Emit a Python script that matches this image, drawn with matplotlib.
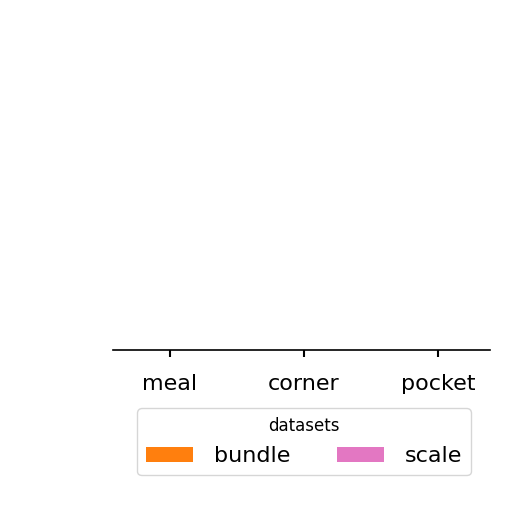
import numpy as np
import matplotlib.pyplot as plt

# Data (bars are flat at the baseline)
categories = ['meal', 'corner', 'pocket']
bundle = [0.0, 0.0, 0.0]
scale = [0.0, 0.0, 0.0]
series_names = ['bundle', 'scale']
colors = ['#ff7f0e', '#e377c2']

fig = plt.figure(figsize=(5.12, 5.12), dpi=100)
ax = fig.add_axes([0.221, 0.316, 0.736, 0.56])

x = np.arange(len(categories))
width = 0.38
ax.bar(x - width / 2, bundle, width, color=colors[0], label=series_names[0])
ax.bar(x + width / 2, scale, width, color=colors[1], label=series_names[1])

ax.set_xlim(-0.425, 2.39)
ax.set_ylim(0, 1)
ax.set_xticks(x)
ax.set_xticklabels(categories, fontsize=16)
ax.set_yticks([])
for side in ['top', 'right', 'left']:
    ax.spines[side].set_visible(False)
ax.spines['bottom'].set_linewidth(1.2)
ax.tick_params(axis='x', length=5, width=1.5, pad=12)

ax.legend(title='datasets', ncol=2, fontsize=16, title_fontsize=12,
          loc='upper center', bbox_to_anchor=(304 / 512, 1 - 397 / 512),
          bbox_transform=fig.transFigure, handlelength=2.1,
          handletextpad=0.95, columnspacing=2.1, frameon=True)

fig.savefig('out.png', dpi=100)
